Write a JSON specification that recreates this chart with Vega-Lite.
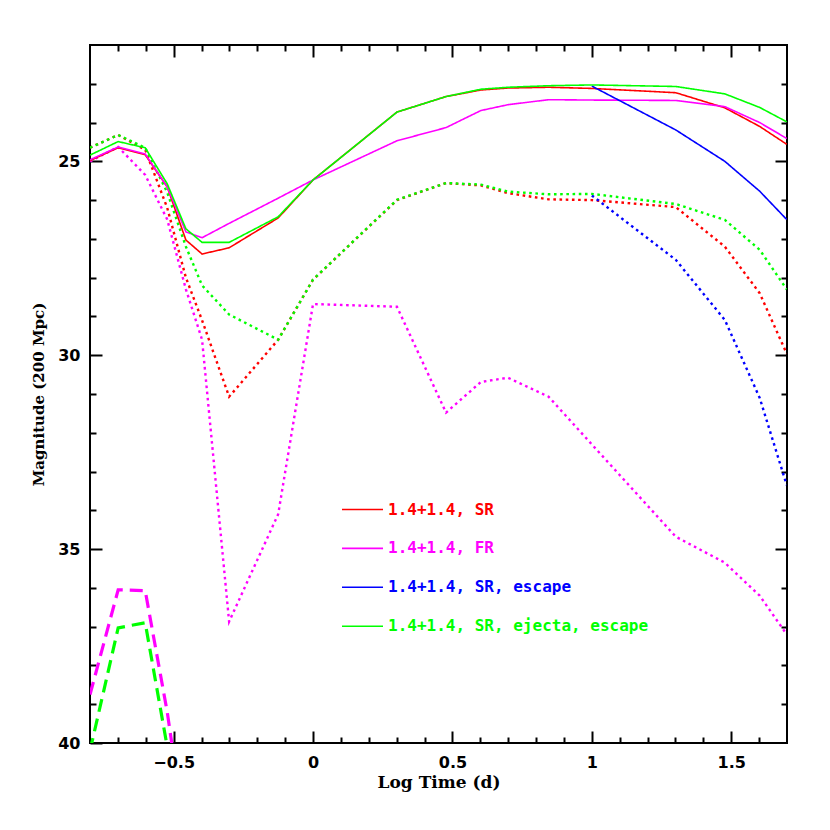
{
  "$schema": "https://vega.github.io/schema/vega-lite/v6.json",
  "width": 697,
  "height": 698,
  "autosize": {"type": "none"},
  "padding": {"left": 90, "top": 45, "right": 43, "bottom": 87},
  "background": "white",
  "config": {
    "view": {"stroke": "black", "strokeWidth": 2},
    "axis": {
      "domain": false, "grid": false, "tickColor": "black", "tickWidth": 2,
      "labelFont": "DejaVu Sans", "labelFontWeight": "bold", "labelFontSize": 16, "labelColor": "black",
      "titleFont": "DejaVu Serif", "titleFontWeight": "bold", "titleColor": "black"
    }
  },
  "data": {
    "values": [
      {"model": "1.4+1.4, SR", "style": "dotted", "t": -0.8, "mag": 24.65},
      {"model": "1.4+1.4, SR", "style": "dotted", "t": -0.699, "mag": 24.32},
      {"model": "1.4+1.4, SR", "style": "dotted", "t": -0.602, "mag": 24.7},
      {"model": "1.4+1.4, SR", "style": "dotted", "t": -0.523, "mag": 26.2},
      {"model": "1.4+1.4, SR", "style": "dotted", "t": -0.456, "mag": 28.0},
      {"model": "1.4+1.4, SR", "style": "dotted", "t": -0.398, "mag": 29.1},
      {"model": "1.4+1.4, SR", "style": "dotted", "t": -0.301, "mag": 31.07},
      {"model": "1.4+1.4, SR", "style": "dotted", "t": -0.125, "mag": 29.6},
      {"model": "1.4+1.4, SR", "style": "dotted", "t": 0, "mag": 28.05},
      {"model": "1.4+1.4, SR", "style": "dotted", "t": 0.301, "mag": 26.0},
      {"model": "1.4+1.4, SR", "style": "dotted", "t": 0.477, "mag": 25.56},
      {"model": "1.4+1.4, SR", "style": "dotted", "t": 0.602, "mag": 25.62},
      {"model": "1.4+1.4, SR", "style": "dotted", "t": 0.699, "mag": 25.82},
      {"model": "1.4+1.4, SR", "style": "dotted", "t": 0.845, "mag": 25.98},
      {"model": "1.4+1.4, SR", "style": "dotted", "t": 1.0, "mag": 26.0},
      {"model": "1.4+1.4, SR", "style": "dotted", "t": 1.301, "mag": 26.18},
      {"model": "1.4+1.4, SR", "style": "dotted", "t": 1.477, "mag": 27.2},
      {"model": "1.4+1.4, SR", "style": "dotted", "t": 1.602, "mag": 28.4},
      {"model": "1.4+1.4, SR", "style": "dotted", "t": 1.699, "mag": 29.96},

      {"model": "1.4+1.4, FR", "style": "dotted", "t": -0.8, "mag": 25.0},
      {"model": "1.4+1.4, FR", "style": "dotted", "t": -0.699, "mag": 24.63},
      {"model": "1.4+1.4, FR", "style": "dotted", "t": -0.602, "mag": 25.35},
      {"model": "1.4+1.4, FR", "style": "dotted", "t": -0.523, "mag": 26.5},
      {"model": "1.4+1.4, FR", "style": "dotted", "t": -0.456, "mag": 28.3},
      {"model": "1.4+1.4, FR", "style": "dotted", "t": -0.398, "mag": 29.6},
      {"model": "1.4+1.4, FR", "style": "dotted", "t": -0.301, "mag": 36.87},
      {"model": "1.4+1.4, FR", "style": "dotted", "t": -0.125, "mag": 34.1},
      {"model": "1.4+1.4, FR", "style": "dotted", "t": 0, "mag": 28.68},
      {"model": "1.4+1.4, FR", "style": "dotted", "t": 0.301, "mag": 28.75},
      {"model": "1.4+1.4, FR", "style": "dotted", "t": 0.477, "mag": 31.48},
      {"model": "1.4+1.4, FR", "style": "dotted", "t": 0.602, "mag": 30.69},
      {"model": "1.4+1.4, FR", "style": "dotted", "t": 0.699, "mag": 30.58},
      {"model": "1.4+1.4, FR", "style": "dotted", "t": 0.845, "mag": 31.07},
      {"model": "1.4+1.4, FR", "style": "dotted", "t": 1.0, "mag": 32.3},
      {"model": "1.4+1.4, FR", "style": "dotted", "t": 1.301, "mag": 34.68},
      {"model": "1.4+1.4, FR", "style": "dotted", "t": 1.477, "mag": 35.35},
      {"model": "1.4+1.4, FR", "style": "dotted", "t": 1.602, "mag": 36.2},
      {"model": "1.4+1.4, FR", "style": "dotted", "t": 1.699, "mag": 37.2},

      {"model": "1.4+1.4, SR, escape", "style": "dotted", "t": 1.0, "mag": 25.88},
      {"model": "1.4+1.4, SR, escape", "style": "dotted", "t": 1.301, "mag": 27.54},
      {"model": "1.4+1.4, SR, escape", "style": "dotted", "t": 1.477, "mag": 29.09},
      {"model": "1.4+1.4, SR, escape", "style": "dotted", "t": 1.602, "mag": 31.1},
      {"model": "1.4+1.4, SR, escape", "style": "dotted", "t": 1.699, "mag": 33.35},

      {"model": "1.4+1.4, SR, ejecta, escape", "style": "dotted", "t": -0.8, "mag": 24.65},
      {"model": "1.4+1.4, SR, ejecta, escape", "style": "dotted", "t": -0.699, "mag": 24.32},
      {"model": "1.4+1.4, SR, ejecta, escape", "style": "dotted", "t": -0.602, "mag": 24.65},
      {"model": "1.4+1.4, SR, ejecta, escape", "style": "dotted", "t": -0.523, "mag": 25.8},
      {"model": "1.4+1.4, SR, ejecta, escape", "style": "dotted", "t": -0.456, "mag": 27.2},
      {"model": "1.4+1.4, SR, ejecta, escape", "style": "dotted", "t": -0.398, "mag": 28.2},
      {"model": "1.4+1.4, SR, ejecta, escape", "style": "dotted", "t": -0.301, "mag": 28.95},
      {"model": "1.4+1.4, SR, ejecta, escape", "style": "dotted", "t": -0.125, "mag": 29.6},
      {"model": "1.4+1.4, SR, ejecta, escape", "style": "dotted", "t": 0, "mag": 28.05},
      {"model": "1.4+1.4, SR, ejecta, escape", "style": "dotted", "t": 0.301, "mag": 25.99},
      {"model": "1.4+1.4, SR, ejecta, escape", "style": "dotted", "t": 0.477, "mag": 25.56},
      {"model": "1.4+1.4, SR, ejecta, escape", "style": "dotted", "t": 0.602, "mag": 25.6},
      {"model": "1.4+1.4, SR, ejecta, escape", "style": "dotted", "t": 0.699, "mag": 25.78},
      {"model": "1.4+1.4, SR, ejecta, escape", "style": "dotted", "t": 0.845, "mag": 25.85},
      {"model": "1.4+1.4, SR, ejecta, escape", "style": "dotted", "t": 1.0, "mag": 25.84},
      {"model": "1.4+1.4, SR, ejecta, escape", "style": "dotted", "t": 1.301, "mag": 26.1},
      {"model": "1.4+1.4, SR, ejecta, escape", "style": "dotted", "t": 1.477, "mag": 26.51},
      {"model": "1.4+1.4, SR, ejecta, escape", "style": "dotted", "t": 1.602, "mag": 27.28},
      {"model": "1.4+1.4, SR, ejecta, escape", "style": "dotted", "t": 1.699, "mag": 28.3},

      {"model": "1.4+1.4, FR", "style": "dashed", "t": -0.8, "mag": 38.75},
      {"model": "1.4+1.4, FR", "style": "dashed", "t": -0.699, "mag": 36.05},
      {"model": "1.4+1.4, FR", "style": "dashed", "t": -0.602, "mag": 36.07},
      {"model": "1.4+1.4, FR", "style": "dashed", "t": -0.523, "mag": 39.2},
      {"model": "1.4+1.4, FR", "style": "dashed", "t": -0.456, "mag": 42.5},

      {"model": "1.4+1.4, SR, ejecta, escape", "style": "dashed", "t": -0.8, "mag": 40.2},
      {"model": "1.4+1.4, SR, ejecta, escape", "style": "dashed", "t": -0.699, "mag": 37.03},
      {"model": "1.4+1.4, SR, ejecta, escape", "style": "dashed", "t": -0.602, "mag": 36.9},
      {"model": "1.4+1.4, SR, ejecta, escape", "style": "dashed", "t": -0.523, "mag": 40.1},
      {"model": "1.4+1.4, SR, ejecta, escape", "style": "dashed", "t": -0.456, "mag": 43.5},

      {"model": "1.4+1.4, SR", "style": "solid", "t": -0.8, "mag": 24.98},
      {"model": "1.4+1.4, SR", "style": "solid", "t": -0.699, "mag": 24.65},
      {"model": "1.4+1.4, SR", "style": "solid", "t": -0.602, "mag": 24.83},
      {"model": "1.4+1.4, SR", "style": "solid", "t": -0.523, "mag": 25.66},
      {"model": "1.4+1.4, SR", "style": "solid", "t": -0.456, "mag": 27.03},
      {"model": "1.4+1.4, SR", "style": "solid", "t": -0.398, "mag": 27.39},
      {"model": "1.4+1.4, SR", "style": "solid", "t": -0.301, "mag": 27.23},
      {"model": "1.4+1.4, SR", "style": "solid", "t": -0.125, "mag": 26.46},
      {"model": "1.4+1.4, SR", "style": "solid", "t": 0, "mag": 25.48},
      {"model": "1.4+1.4, SR", "style": "solid", "t": 0.301, "mag": 23.73},
      {"model": "1.4+1.4, SR", "style": "solid", "t": 0.477, "mag": 23.33},
      {"model": "1.4+1.4, SR", "style": "solid", "t": 0.602, "mag": 23.16},
      {"model": "1.4+1.4, SR", "style": "solid", "t": 0.699, "mag": 23.11},
      {"model": "1.4+1.4, SR", "style": "solid", "t": 0.845, "mag": 23.09},
      {"model": "1.4+1.4, SR", "style": "solid", "t": 1.0, "mag": 23.12},
      {"model": "1.4+1.4, SR", "style": "solid", "t": 1.301, "mag": 23.23},
      {"model": "1.4+1.4, SR", "style": "solid", "t": 1.477, "mag": 23.62},
      {"model": "1.4+1.4, SR", "style": "solid", "t": 1.602, "mag": 24.1},
      {"model": "1.4+1.4, SR", "style": "solid", "t": 1.699, "mag": 24.56},

      {"model": "1.4+1.4, FR", "style": "solid", "t": -0.8, "mag": 24.96},
      {"model": "1.4+1.4, FR", "style": "solid", "t": -0.699, "mag": 24.63},
      {"model": "1.4+1.4, FR", "style": "solid", "t": -0.602, "mag": 24.81},
      {"model": "1.4+1.4, FR", "style": "solid", "t": -0.523, "mag": 25.66},
      {"model": "1.4+1.4, FR", "style": "solid", "t": -0.456, "mag": 26.82},
      {"model": "1.4+1.4, FR", "style": "solid", "t": -0.398, "mag": 26.97},
      {"model": "1.4+1.4, FR", "style": "solid", "t": -0.301, "mag": 26.6},
      {"model": "1.4+1.4, FR", "style": "solid", "t": -0.125, "mag": 25.95},
      {"model": "1.4+1.4, FR", "style": "solid", "t": 0, "mag": 25.48},
      {"model": "1.4+1.4, FR", "style": "solid", "t": 0.301, "mag": 24.47},
      {"model": "1.4+1.4, FR", "style": "solid", "t": 0.477, "mag": 24.13},
      {"model": "1.4+1.4, FR", "style": "solid", "t": 0.602, "mag": 23.69},
      {"model": "1.4+1.4, FR", "style": "solid", "t": 0.699, "mag": 23.54},
      {"model": "1.4+1.4, FR", "style": "solid", "t": 0.845, "mag": 23.41},
      {"model": "1.4+1.4, FR", "style": "solid", "t": 1.0, "mag": 23.42},
      {"model": "1.4+1.4, FR", "style": "solid", "t": 1.301, "mag": 23.43},
      {"model": "1.4+1.4, FR", "style": "solid", "t": 1.477, "mag": 23.59},
      {"model": "1.4+1.4, FR", "style": "solid", "t": 1.602, "mag": 24.0},
      {"model": "1.4+1.4, FR", "style": "solid", "t": 1.699, "mag": 24.41},

      {"model": "1.4+1.4, SR, escape", "style": "solid", "t": 1.0, "mag": 23.06},
      {"model": "1.4+1.4, SR, escape", "style": "solid", "t": 1.301, "mag": 24.19},
      {"model": "1.4+1.4, SR, escape", "style": "solid", "t": 1.477, "mag": 25.0},
      {"model": "1.4+1.4, SR, escape", "style": "solid", "t": 1.602, "mag": 25.77},
      {"model": "1.4+1.4, SR, escape", "style": "solid", "t": 1.699, "mag": 26.5},

      {"model": "1.4+1.4, SR, ejecta, escape", "style": "solid", "t": -0.8, "mag": 24.84},
      {"model": "1.4+1.4, SR, ejecta, escape", "style": "solid", "t": -0.699, "mag": 24.49},
      {"model": "1.4+1.4, SR, ejecta, escape", "style": "solid", "t": -0.602, "mag": 24.65},
      {"model": "1.4+1.4, SR, ejecta, escape", "style": "solid", "t": -0.523, "mag": 25.58},
      {"model": "1.4+1.4, SR, ejecta, escape", "style": "solid", "t": -0.456, "mag": 26.74},
      {"model": "1.4+1.4, SR, ejecta, escape", "style": "solid", "t": -0.398, "mag": 27.09},
      {"model": "1.4+1.4, SR, ejecta, escape", "style": "solid", "t": -0.301, "mag": 27.09},
      {"model": "1.4+1.4, SR, ejecta, escape", "style": "solid", "t": -0.125, "mag": 26.43},
      {"model": "1.4+1.4, SR, ejecta, escape", "style": "solid", "t": 0, "mag": 25.48},
      {"model": "1.4+1.4, SR, ejecta, escape", "style": "solid", "t": 0.301, "mag": 23.73},
      {"model": "1.4+1.4, SR, ejecta, escape", "style": "solid", "t": 0.477, "mag": 23.33},
      {"model": "1.4+1.4, SR, ejecta, escape", "style": "solid", "t": 0.602, "mag": 23.14},
      {"model": "1.4+1.4, SR, ejecta, escape", "style": "solid", "t": 0.699, "mag": 23.09},
      {"model": "1.4+1.4, SR, ejecta, escape", "style": "solid", "t": 0.845, "mag": 23.05},
      {"model": "1.4+1.4, SR, ejecta, escape", "style": "solid", "t": 1.0, "mag": 23.03},
      {"model": "1.4+1.4, SR, ejecta, escape", "style": "solid", "t": 1.301, "mag": 23.07},
      {"model": "1.4+1.4, SR, ejecta, escape", "style": "solid", "t": 1.477, "mag": 23.26},
      {"model": "1.4+1.4, SR, ejecta, escape", "style": "solid", "t": 1.602, "mag": 23.61},
      {"model": "1.4+1.4, SR, ejecta, escape", "style": "solid", "t": 1.699, "mag": 23.98}
    ]
  },
  "layer": [
    {
      "mark": {"type": "line", "clip": true},
      "encoding": {
        "x": {"field": "t", "type": "quantitative",
          "scale": {"domain": [-0.8, 1.7], "nice": false, "zero": false},
          "axis": {"orient": "bottom", "values": [-0.5, 0, 0.5, 1, 1.5], "format": "~g", "tickSize": -12, "labelPadding": 23, "labelFlush": false, "title": "Log Time (d)", "titleFontSize": 17, "titlePadding": 4}},
        "y": {"field": "mag", "type": "quantitative",
          "scale": {"domain": [22, 40], "reverse": true, "nice": false, "zero": false},
          "axis": {"orient": "left", "values": [25, 30, 35, 40], "tickSize": -12, "labelPadding": 22, "labelFlush": false, "title": "Magnitude (200 Mpc)", "titleFontSize": 15, "titlePadding": 11}},
        "color": {"field": "model", "type": "nominal",
          "scale": {"domain": ["1.4+1.4, SR", "1.4+1.4, FR", "1.4+1.4, SR, escape", "1.4+1.4, SR, ejecta, escape"],
                    "range": ["#ff0000", "#ff00ff", "#0000ff", "#00ff00"]},
          "legend": {"title": null, "orient": "none", "legendX": 251, "legendY": 443,
            "symbolType": "stroke", "symbolSize": 1681, "symbolStrokeWidth": 1.6, "symbolDash": [1, 0],
            "labelFont": "DejaVu Sans Mono", "labelFontWeight": "bold", "labelFontSize": 16, "labelOffset": 4, "labelLimit": 0,
            "rowPadding": 8.9, "padding": 0,
            "encode": {"labels": {"update": {"fill": {"scale": "color", "field": "value"}}}}}},
        "strokeDash": {"field": "style", "type": "nominal",
          "scale": {"domain": ["solid", "dotted", "dashed"], "range": [[1, 0], [2.6, 3.6], [13, 7]]}, "legend": null},
        "strokeWidth": {"field": "style", "type": "ordinal",
          "scale": {"domain": ["solid", "dotted", "dashed"], "range": [1.6, 3.2, 3.3]}, "legend": null}
      }
    },
    {
      "mark": {"type": "point", "opacity": 0},
      "encoding": {
        "x": {"field": "t", "type": "quantitative", "scale": {"domain": [-0.8, 1.7], "nice": false, "zero": false},
          "axis": {"orient": "bottom", "values": [-0.7, -0.6, -0.4, -0.3, -0.2, -0.1, 0.1, 0.2, 0.3, 0.4, 0.6, 0.7, 0.8, 0.9, 1.1, 1.2, 1.3, 1.4, 1.6], "tickSize": -6, "labels": false, "title": null}},
        "y": {"field": "mag", "type": "quantitative", "scale": {"domain": [22, 40], "reverse": true, "nice": false, "zero": false},
          "axis": {"orient": "left", "values": [23, 24, 26, 27, 28, 29, 31, 32, 33, 34, 36, 37, 38, 39], "tickSize": -6, "labels": false, "title": null}}
      }
    },
    {
      "mark": {"type": "point", "opacity": 0},
      "encoding": {
        "x": {"field": "t", "type": "quantitative", "scale": {"domain": [-0.8, 1.7], "nice": false, "zero": false},
          "axis": {"orient": "top", "values": [-0.5, 0, 0.5, 1, 1.5], "tickSize": -12, "labels": false, "title": null}},
        "y": {"field": "mag", "type": "quantitative", "scale": {"domain": [22, 40], "reverse": true, "nice": false, "zero": false},
          "axis": {"orient": "right", "values": [25, 30, 35], "tickSize": -12, "labels": false, "title": null}}
      }
    },
    {
      "mark": {"type": "point", "opacity": 0},
      "encoding": {
        "x": {"field": "t", "type": "quantitative", "scale": {"domain": [-0.8, 1.7], "nice": false, "zero": false},
          "axis": {"orient": "top", "values": [-0.7, -0.6, -0.4, -0.3, -0.2, -0.1, 0.1, 0.2, 0.3, 0.4, 0.6, 0.7, 0.8, 0.9, 1.1, 1.2, 1.3, 1.4, 1.6], "tickSize": -6, "labels": false, "title": null}},
        "y": {"field": "mag", "type": "quantitative", "scale": {"domain": [22, 40], "reverse": true, "nice": false, "zero": false},
          "axis": {"orient": "right", "values": [23, 24, 26, 27, 28, 29, 31, 32, 33, 34, 36, 37, 38, 39], "tickSize": -6, "labels": false, "title": null}}
      }
    }
  ],
  "resolve": {"axis": {"x": "independent", "y": "independent"}}
}
